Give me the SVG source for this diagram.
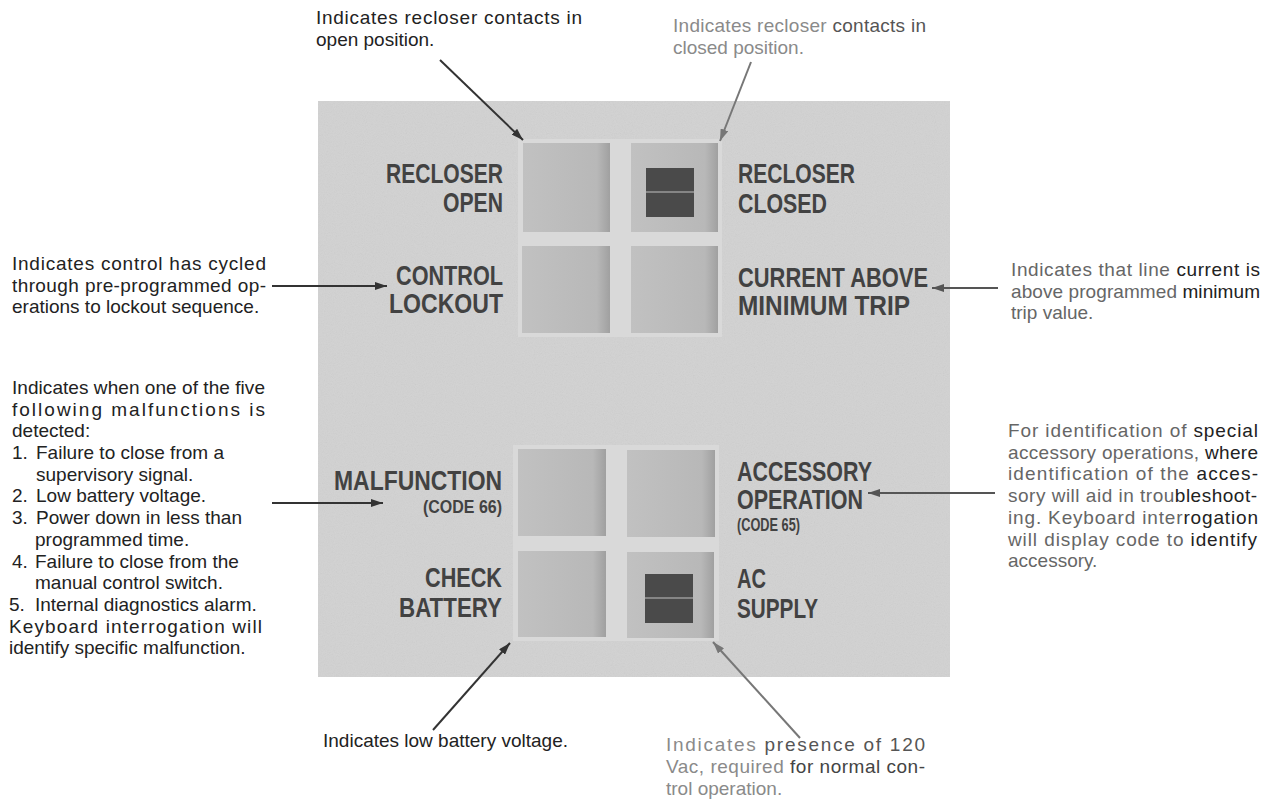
<svg xmlns="http://www.w3.org/2000/svg" width="1272" height="801" viewBox="0 0 1272 801">
<defs>
<style>
.ann{font-family:"Liberation Sans",Arial,sans-serif;font-size:19px;fill:#222}
.g1{fill:#8a8a8a}.g2{fill:#666}.dk{fill:#222}
.lbl{font-family:"Liberation Sans Narrow","Liberation Sans",Arial,sans-serif;font-weight:bold;font-size:28px;fill:#424242}
.sm{font-size:19px}
.con{fill:none;stroke-width:2}
.sq{fill:url(#sqg)}
.led{fill:#4a4a4a}
.div{stroke:#9a9a9a;stroke-width:1.5}
</style>
<linearGradient id="sqg" x1="0" y1="0" x2="1" y2="0">
<stop offset="0" stop-color="#c1c1c1"/><stop offset="0.85" stop-color="#b8b8b8"/><stop offset="1" stop-color="#a0a0a0"/>
</linearGradient>
<filter id="noise" x="0" y="0" width="100%" height="100%">
<feTurbulence type="fractalNoise" baseFrequency="0.9" numOctaves="2" seed="4"/>
<feColorMatrix type="saturate" values="0"/>
</filter>
<marker id="ad" markerUnits="userSpaceOnUse" markerWidth="13" markerHeight="8" refX="12" refY="4" orient="auto"><path d="M0,0 L12,4 L0,8 z" fill="#333"/></marker>
<marker id="am" markerUnits="userSpaceOnUse" markerWidth="13" markerHeight="8" refX="12" refY="4" orient="auto"><path d="M0,0 L12,4 L0,8 z" fill="#555"/></marker>
<marker id="al" markerUnits="userSpaceOnUse" markerWidth="13" markerHeight="8" refX="12" refY="4" orient="auto"><path d="M0,0 L12,4 L0,8 z" fill="#777"/></marker>
</defs>

<g id="panel">
<rect x="318" y="101" width="632" height="576" fill="#d2d2d2"/>
<rect x="318" y="101" width="632" height="576" filter="url(#noise)" opacity="0.12"/>
<rect x="518" y="139" width="204" height="198" fill="#d9d9d9"/>
<rect x="513" y="445" width="206" height="196" fill="#d9d9d9"/>
</g>

<g id="recloser-open">
<rect class="sq" x="523" y="143" width="87" height="89"/>
<text class="lbl" x="503" y="183" text-anchor="end" textLength="117" lengthAdjust="spacingAndGlyphs">RECLOSER</text>
<text class="lbl" x="503" y="212" text-anchor="end" textLength="60" lengthAdjust="spacingAndGlyphs">OPEN</text>
</g>
<g id="recloser-closed">
<rect class="sq" x="631" y="143" width="87" height="89"/>
<rect class="led" x="646" y="168" width="48" height="49"/>
<line class="div" x1="646" y1="192" x2="694" y2="192"/>
<text class="lbl" x="738" y="183" textLength="117" lengthAdjust="spacingAndGlyphs">RECLOSER</text>
<text class="lbl" x="738" y="213" textLength="89" lengthAdjust="spacingAndGlyphs">CLOSED</text>
</g>
<g id="control-lockout">
<rect class="sq" x="522" y="246" width="88" height="87"/>
<text class="lbl" x="503" y="285" text-anchor="end" textLength="107" lengthAdjust="spacingAndGlyphs">CONTROL</text>
<text class="lbl" x="503" y="313" text-anchor="end" textLength="114" lengthAdjust="spacingAndGlyphs">LOCKOUT</text>
</g>
<g id="current-above">
<rect class="sq" x="631" y="246" width="87" height="87"/>
<text class="lbl" x="738" y="287" textLength="190" lengthAdjust="spacingAndGlyphs">CURRENT ABOVE</text>
<text class="lbl" x="738" y="315" textLength="172" lengthAdjust="spacingAndGlyphs">MINIMUM TRIP</text>
</g>
<g id="malfunction">
<rect class="sq" x="518" y="449" width="88" height="87"/>
<text class="lbl" x="502" y="490" text-anchor="end" textLength="168" lengthAdjust="spacingAndGlyphs">MALFUNCTION</text>
<text class="lbl sm" x="502" y="513" text-anchor="end" textLength="79" lengthAdjust="spacingAndGlyphs">(CODE 66)</text>
</g>
<g id="accessory-operation">
<rect class="sq" x="627" y="450" width="88" height="87"/>
<text class="lbl" x="737" y="481" textLength="135" lengthAdjust="spacingAndGlyphs">ACCESSORY</text>
<text class="lbl" x="737" y="509" textLength="126" lengthAdjust="spacingAndGlyphs">OPERATION</text>
<text class="lbl sm" x="737" y="531" textLength="63" lengthAdjust="spacingAndGlyphs">(CODE 65)</text>
</g>
<g id="check-battery">
<rect class="sq" x="518" y="551" width="88" height="86"/>
<text class="lbl" x="502" y="587" text-anchor="end" textLength="77" lengthAdjust="spacingAndGlyphs">CHECK</text>
<text class="lbl" x="502" y="617" text-anchor="end" textLength="103" lengthAdjust="spacingAndGlyphs">BATTERY</text>
</g>
<g id="ac-supply">
<rect class="sq" x="627" y="552" width="87" height="86"/>
<rect class="led" x="645" y="574" width="48" height="49"/>
<line class="div" x1="645" y1="598" x2="693" y2="598"/>
<text class="lbl" x="737" y="588" textLength="29" lengthAdjust="spacingAndGlyphs">AC</text>
<text class="lbl" x="737" y="618" textLength="81" lengthAdjust="spacingAndGlyphs">SUPPLY</text>
</g>

<g id="note-open">
<text class="ann" x="316" y="24" textLength="266">Indicates recloser contacts in</text>
<text class="ann" x="316" y="46">open position.</text>
</g>
<g id="note-closed">
<text class="ann g1" x="673" y="32" textLength="253">Indicates recloser <tspan fill="#555">contacts in</tspan></text>
<text class="ann g1" x="673" y="54">closed position.</text>
</g>
<g id="note-lockout">
<text class="ann" x="12" y="270" textLength="254">Indicates control has cycled</text>
<text class="ann" x="12" y="292" textLength="254">through pre-programmed op-</text>
<text class="ann" x="12" y="313">erations to lockout sequence.</text>
</g>
<g id="note-malfunction">
<text class="ann" x="12" y="394" textLength="253">Indicates when one of the five</text>
<text class="ann" x="12" y="416" textLength="253">following malfunctions is</text>
<text class="ann" x="12" y="437">detected:</text>
<text class="ann" x="12" y="459">1.</text><text class="ann" x="36" y="459">Failure to close from a</text>
<text class="ann" x="36" y="481">supervisory signal.</text>
<text class="ann" x="12" y="502">2.</text><text class="ann" x="36" y="502">Low battery voltage.</text>
<text class="ann" x="12" y="524">3.</text><text class="ann" x="36" y="524">Power down in less than</text>
<text class="ann" x="35" y="546">programmed time.</text>
<text class="ann" x="12" y="568">4.</text><text class="ann" x="35" y="568">Failure to close from the</text>
<text class="ann" x="35" y="589">manual control switch.</text>
<text class="ann" x="9" y="611">5.</text><text class="ann" x="35" y="611">Internal diagnostics alarm.</text>
<text class="ann" x="9" y="633" textLength="253">Keyboard interrogation will</text>
<text class="ann" x="9" y="654">identify specific malfunction.</text>
</g>
<g id="note-current">
<text class="ann g2" x="1011" y="276" textLength="249">Indicates that line <tspan class="dk">current is</tspan></text>
<text class="ann g2" x="1011" y="298" textLength="249">above programmed <tspan class="dk">minimum</tspan></text>
<text class="ann g2" x="1011" y="319">trip value.</text>
</g>
<g id="note-accessory">
<text class="ann g2" x="1008" y="437" textLength="250">For identification of <tspan class="dk">special</tspan></text>
<text class="ann g2" x="1008" y="459" textLength="250">accessory operations, <tspan class="dk">where</tspan></text>
<text class="ann g2" x="1008" y="480" textLength="250">identification of the <tspan class="dk">acces-</tspan></text>
<text class="ann g2" x="1008" y="502" textLength="249">sory will aid in trou<tspan class="dk">bleshoot-</tspan></text>
<text class="ann g2" x="1008" y="524" textLength="250">ing.  Keyboard inter<tspan class="dk">rogation</tspan></text>
<text class="ann g2" x="1008" y="546" textLength="249">will display code to <tspan class="dk">identify</tspan></text>
<text class="ann g2" x="1008" y="567">accessory.</text>
</g>
<g id="note-battery">
<text class="ann" x="323" y="747">Indicates low battery voltage.</text>
</g>
<g id="note-ac">
<text class="ann g1" x="666" y="751" textLength="259">Indicates <tspan fill="#555">presence of 120</tspan></text>
<text class="ann g1" x="666" y="773" textLength="259">Vac, required <tspan fill="#444">for normal con-</tspan></text>
<text class="ann g1" x="666" y="795">trol operation.</text>
</g>

<g id="connectors">
<line class="con" stroke="#333" x1="440" y1="60" x2="523" y2="140" marker-end="url(#ad)"/>
<line class="con" stroke="#777" x1="751" y1="62" x2="720" y2="141" marker-end="url(#al)"/>
<line class="con" stroke="#333" x1="272" y1="286" x2="387" y2="286" marker-end="url(#ad)"/>
<line class="con" stroke="#333" x1="272" y1="503" x2="383" y2="503" marker-end="url(#ad)"/>
<line class="con" stroke="#555" x1="998" y1="288" x2="932" y2="288" marker-end="url(#am)"/>
<line class="con" stroke="#555" x1="995" y1="493" x2="868" y2="493" marker-end="url(#am)"/>
<line class="con" stroke="#333" x1="433" y1="730" x2="510" y2="643" marker-end="url(#ad)"/>
<line class="con" stroke="#777" x1="800" y1="738" x2="713" y2="642" marker-end="url(#al)"/>
</g>
</svg>
